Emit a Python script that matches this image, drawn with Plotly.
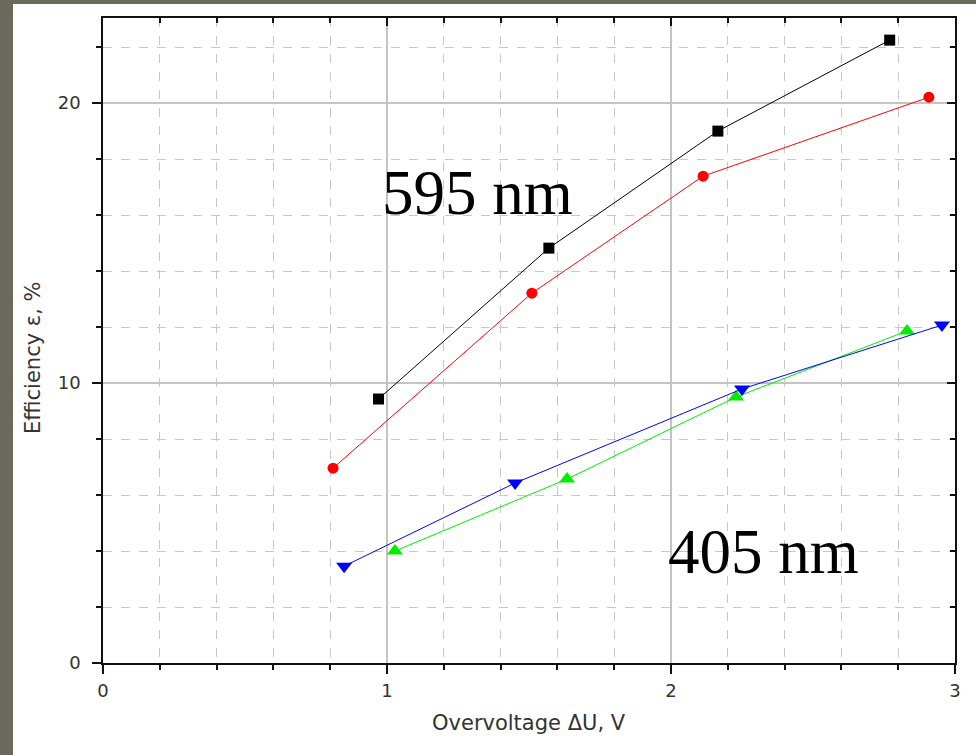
import plotly.graph_objects as go

# Data
black_x = [0.97, 1.57, 2.165, 2.77]
black_y = [9.43, 14.82, 19.0, 22.25]
red_x = [0.81, 1.51, 2.113, 2.908]
red_y = [6.96, 13.21, 17.39, 20.21]
blue_x = [0.849, 1.451, 2.25, 2.954]
blue_y = [3.46, 6.43, 9.79, 12.07]
green_x = [1.028, 1.634, 2.229, 2.831]
green_y = [4.0, 6.57, 9.5, 11.86]

x_ticks = [0, 1, 2, 3]
y_ticks = [0, 10, 20]

W, H = 976, 755
ML, MR, MT, MB = 103, 21, 18, 92
PW, PH = W - ML - MR, H - MT - MB

def px_x(p):
    return (p - ML) / PW

def px_y(p):
    return (H - MB - p) / PH

fig = go.Figure()

series = [
    (black_x, black_y, "black", "square", 11),
    (red_x, red_y, "red", "circle", 11),
    (green_x, green_y, "#00ee00", "triangle-up", 14),
    (blue_x, blue_y, "blue", "triangle-down", 14),
]
for xs, ys, c, sym, sz in series:
    fig.add_trace(go.Scatter(
        x=xs, y=ys, mode="lines+markers",
        line=dict(color=c, width=1),
        marker=dict(color=c, symbol=sym, size=sz, line=dict(width=0)),
        showlegend=False, cliponaxis=False,
    ))

# dummy trace for mirrored axes
fig.add_trace(go.Scatter(x=[None], y=[None], xaxis="x2", yaxis="y2", showlegend=False))

tick_font = dict(family="DejaVu Sans, sans-serif", size=18, color="#333333")
title_font = dict(family="DejaVu Sans, sans-serif", size=21, color="#333333")

fig.update_layout(
    width=W, height=H,
    margin=dict(l=ML, r=MR, t=MT, b=MB),
    paper_bgcolor="#6b6a5a",
    plot_bgcolor="white",
    xaxis=dict(
        range=[0, 3], tickvals=x_ticks, ticks="outside", ticklen=9, tickwidth=1.5,
        tickcolor="#111111", showline=True, linecolor="#111111", linewidth=1.5,
        showgrid=True, gridcolor="#c4c4c4", gridwidth=1.5, zeroline=False,
        tickfont=tick_font, ticklabelstandoff=2,
        minor=dict(dtick=0.2, tick0=0, ticks="outside", ticklen=5, tickcolor="#111111",
                   showgrid=True, gridcolor="#c8c8c8", griddash="dash", gridwidth=1),
    ),
    yaxis=dict(
        range=[0, 23.04], tickvals=y_ticks, ticks="outside", ticklen=9, tickwidth=1.5,
        tickcolor="#111111", showline=True, linecolor="#111111", linewidth=1.5,
        showgrid=True, gridcolor="#c4c4c4", gridwidth=1.5, zeroline=False,
        tickfont=tick_font, ticklabelstandoff=8,
        minor=dict(dtick=2, tick0=0, ticks="outside", ticklen=5, tickcolor="#111111",
                   showgrid=True, gridcolor="#c8c8c8", griddash="dash", gridwidth=1),
    ),
    xaxis2=dict(
        range=[0, 3], overlaying="x", side="top", anchor="y", tickvals=x_ticks,
        ticks="inside", ticklen=8, tickwidth=1.5, tickcolor="#111111",
        showticklabels=False, showline=True, linecolor="#111111", linewidth=1.5,
        showgrid=False, zeroline=False,
        minor=dict(dtick=0.2, tick0=0, ticks="inside", ticklen=5, tickcolor="#111111", showgrid=False),
    ),
    yaxis2=dict(
        range=[0, 23.04], overlaying="y", side="right", anchor="x", tickvals=y_ticks,
        ticks="inside", ticklen=8, tickwidth=1.5, tickcolor="#111111",
        showticklabels=False, showline=True, linecolor="#111111", linewidth=1.5,
        showgrid=False, zeroline=False,
        minor=dict(dtick=2, tick0=0, ticks="inside", ticklen=5, tickcolor="#111111", showgrid=False),
    ),
    shapes=[dict(
        type="rect", xref="paper", yref="paper", layer="below",
        x0=px_x(13), x1=px_x(W + 5), y0=px_y(H + 5), y1=px_y(4),
        fillcolor="white", line=dict(width=0),
    )],
    annotations=[
        dict(text="595 nm", x=1.317, y=16.8, xref="x", yref="y", showarrow=False,
             font=dict(family="Liberation Serif, Times New Roman, serif", size=63, color="black")),
        dict(text="405 nm", x=2.327, y=3.98, xref="x", yref="y", showarrow=False,
             font=dict(family="Liberation Serif, Times New Roman, serif", size=63, color="black")),
        dict(text="Overvoltage ΔU, V", xref="paper", yref="paper", x=px_x(529), y=px_y(723),
             showarrow=False, font=title_font, xanchor="center", yanchor="middle"),
        dict(text="Efficiency ε, %", xref="paper", yref="paper", x=px_x(33), y=px_y(358),
             showarrow=False, font=title_font, textangle=-90, xanchor="center", yanchor="middle"),
    ],
)

fig.write_html("out.html")
